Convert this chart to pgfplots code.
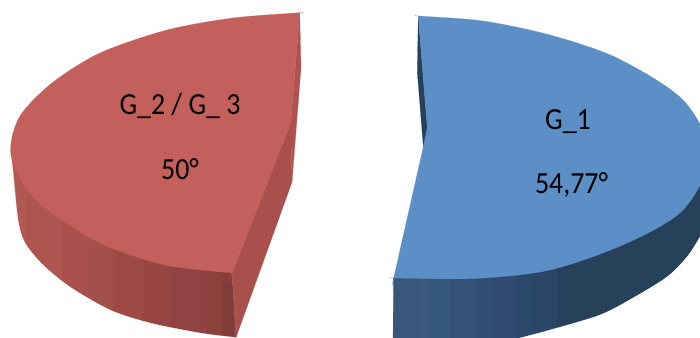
\documentclass[border=0pt]{standalone}
\usepackage{fontspec}
\setmainfont{Carlito}
\usepackage{pgfplots}
\pgfplotsset{compat=1.18}

\definecolor{redtop}{HTML}{C4605B}
\definecolor{redin}{HTML}{A94F4C}
\definecolor{redsl}{HTML}{B0534F}
\definecolor{rw1}{HTML}{B35B56}
\definecolor{rw2}{HTML}{B05852}
\definecolor{rw3}{HTML}{AE564E}
\definecolor{rw4}{HTML}{AD5550}
\definecolor{rw5}{HTML}{A9504D}
\definecolor{rw6}{HTML}{A34F4A}
\definecolor{rw7}{HTML}{9F4947}
\definecolor{rw8}{HTML}{984643}
\definecolor{rw9}{HTML}{924241}
\definecolor{rw10}{HTML}{8B423D}
\definecolor{rw11}{HTML}{823C3A}
\definecolor{bluetop}{HTML}{5B8FC5}
\definecolor{bluedk}{HTML}{27415A}
\definecolor{bw1}{HTML}{38577A}
\definecolor{bw2}{HTML}{3C5A7E}
\definecolor{bw3}{HTML}{35587A}
\definecolor{bw4}{HTML}{345276}
\definecolor{bw5}{HTML}{2F5072}
\definecolor{bw6}{HTML}{2F4C70}
\definecolor{bw7}{HTML}{2A486A}
\definecolor{bw8}{HTML}{2A4566}

\newcommand{\shape}[2]{\addplot[fill=#1,draw=#1,line width=0.2pt] coordinates {#2} -- cycle;}
% curved outline: a point given three times stays a corner
\newcommand{\curved}[2]{\addplot[fill=#1,draw=#1,line width=0.2pt,smooth] coordinates {#2} -- cycle;}
\newcommand{\lab}[1]{\scalebox{1}[1.1]{\fontsize{28}{30}\selectfont #1}}

\begin{document}
\begin{tikzpicture}
\begin{axis}[
  scale only axis, width=700bp, height=338bp,
  xmin=0, xmax=700, ymin=0, ymax=338,
  y dir=reverse, hide axis, clip=true,
]
% red slice, outer wall in stripes, left to right
\shape{rw1}{(9,150) (18,165) (18,240) (9,240)}
\shape{rw2}{(18,165) (27,180) (27,260) (18,240)}
\shape{rw3}{(27,180) (47,200) (47,280) (27,260)}
\shape{rw4}{(47,200) (63,215) (63,295) (47,280)}
\shape{rw5}{(63,215) (90,230) (90,310) (63,295)}
\shape{rw6}{(90,230) (113,240) (113,320) (90,310)}
\shape{rw7}{(113,240) (143,250) (143,330) (113,320)}
\shape{rw8}{(143,250) (170,257) (170,338) (143,330)}
\shape{rw9}{(170,257) (207,262) (207,345) (170,338)}
\shape{rw10}{(207,262) (223,264) (223,345) (207,345)}
\shape{rw11}{(223,264) (232,265) (232,273) (236,337.5) (236,345) (223,345)}
% white below and left of the red wall
\curved{white}{(10.5,150) (10.5,150) (10.5,150) (13,172) (18,220) (25,243) (43,265) (70,287) (110,310) (150,323) (200,333) (236,337.5) (236,337.5) (236,337.5) (236,345) (236,345) (236,345) (-5,345) (-5,345) (-5,345) (-5,150) (-5,150) (-5,150)}
% red cut faces
\shape{redsl}{(299.7,12.7) (301,68) (292,182) (290.7,123)}
\shape{redin}{(232,273) (290.7,123) (292,182) (236,337.5)}
% red top
\curved{redtop}{(299.7,12.7) (299.7,12.7) (299.7,12.7) (233,18) (167,30) (100,53) (52,83) (20,116) (10.5,150) (21,180) (45,208) (100,243) (165,265) (232,273) (232,273) (232,273) (290.7,123) (290.7,123) (290.7,123)}
% blue slice, outer wall in stripes
\shape{bw1}{(393.5,278) (418,270) (418,345) (393,345)}
\shape{bw2}{(418,270) (430,270) (430,345) (418,345)}
\shape{bw3}{(430,270) (450,270) (450,345) (430,345)}
\shape{bw4}{(450,270) (475,270) (475,345) (450,345)}
\shape{bw5}{(475,270) (493,268) (493,345) (475,345)}
\shape{bw6}{(493,268) (517,265) (517,345) (493,345)}
\shape{bw7}{(517,265) (532,262) (532,345) (517,345)}
\shape{bw8}{(532,262) (557,258) (557,345) (532,345)}
\shape{bluedk}{(557,258) (600,245) (650,222) (683,200) (712,170) (712,345) (557,345)}
% white below the blue wall
\curved{white}{(490,346) (490,346) (490,346) (520,338) (550,330) (600,315) (633,298) (667,277) (687,257) (700,237) (712,215) (712,215) (712,215) (712,346) (712,346) (712,346)}
\shape{bluedk}{(418.3,16) (417.3,72) (423.3,147) (427.3,128)}
% blue top
\curved{bluetop}{(418.3,16) (418.3,16) (418.3,16) (483,21) (550,35) (617,58) (683,100) (710,155) (683,210) (625,244) (550,270) (475,278.5) (393.7,278) (393.7,278) (393.7,278) (423.3,147) (423.3,147) (423.3,147) (427.3,128) (427.3,128) (427.3,128)}
% labels
\node[black,anchor=base,inner sep=0pt] at (axis cs:180,114) {\lab{G\_2 / G\_ 3}};
\node[black,anchor=base,inner sep=0pt] at (axis cs:180,179) {\lab{50°}};
\node[black,anchor=base,inner sep=0pt] at (axis cs:568,129) {\lab{G\_1}};
\node[black,anchor=base,inner sep=0pt] at (axis cs:571.5,193) {\lab{54,77°}};
\end{axis}
\pgfresetboundingbox
\useasboundingbox (0,0) rectangle (700bp,338bp);
\end{tikzpicture}
\end{document}
